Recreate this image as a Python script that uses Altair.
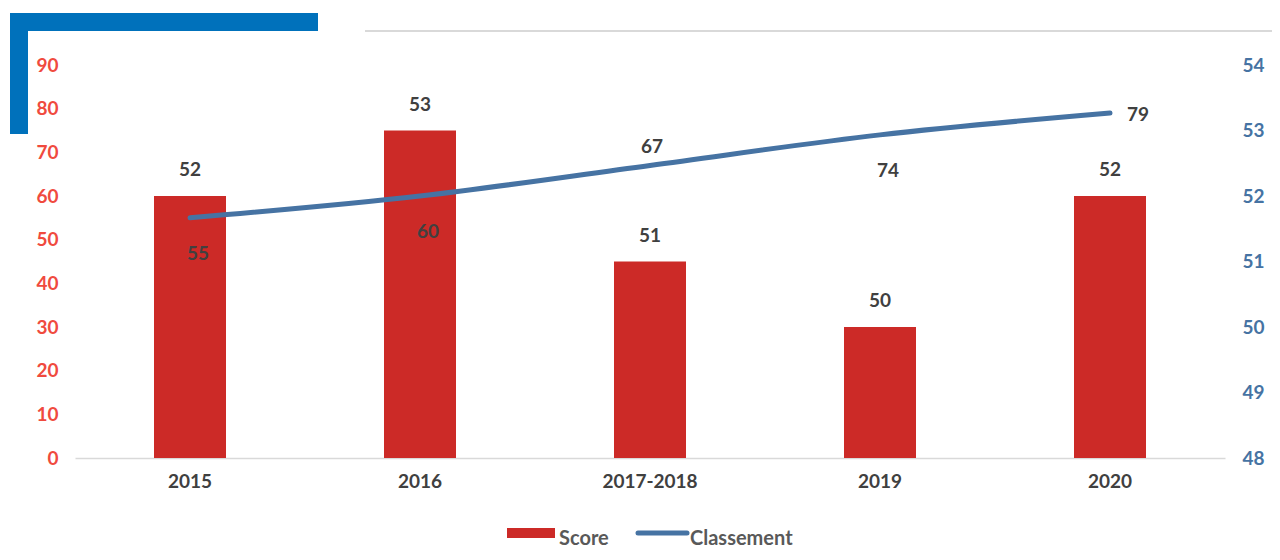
import altair as alt
import pandas as pd

periods = ["2015", "2016", "2017-2018", "2019", "2020"]
score = [52, 53, 51, 50, 52]
classement = [55, 60, 67, 74, 79]
classement_label_pos = ["below", "below", "above", "below", "right"]

left_ticks = [0, 10, 20, 30, 40, 50, 60, 70, 80, 90]
right_ticks = [48, 49, 50, 51, 52, 53, 54]

df = pd.DataFrame({
    "period": periods,
    "score": score,
    "classement": classement,
    "pos": classement_label_pos,
})

FONT = "Lato"
RED = "#cc2a27"
BLUE = "#4673a3"
TXT = "#404040"
FS = 19

x = alt.X("period:N", sort=periods, title=None,
          scale=alt.Scale(paddingInner=0, paddingOuter=0),
          axis=alt.Axis(labelAngle=0, ticks=False, domainColor="#d9d9d9",
                        domainWidth=1.5, labelPadding=14, labelFontSize=FS,
                        labelFont=FONT, labelFontWeight="bold", labelColor=TXT))

base = alt.Chart(df)

y_bar = alt.Y("score:Q", title=None,
              scale=alt.Scale(domain=[48, 54], zero=False, nice=False),
              axis=alt.Axis(orient="right", values=right_ticks, grid=False,
                            ticks=False, domain=False, labelPadding=17,
                            labelFontSize=FS, labelFont=FONT,
                            labelFontWeight="bold", labelColor=BLUE))

bars = base.mark_bar(size=72, color=RED).encode(x=x, y=y_bar, y2=alt.datum(48))
bar_text = base.mark_text(dy=-26, baseline="middle", fontSize=FS, font=FONT,
                          fontWeight="bold", color=TXT).encode(
    x=x, y=y_bar, text="score:Q")
bar_layer = alt.layer(bars, bar_text)

y_line = alt.Y("classement:Q", title=None,
               scale=alt.Scale(domain=[0, 90], nice=False),
               axis=alt.Axis(orient="left", values=left_ticks, grid=False,
                             ticks=False, domain=False, labelPadding=17,
                             labelFontSize=FS, labelFont=FONT,
                             labelFontWeight="bold", labelColor="#f04a3e"))

line = base.mark_line(color=BLUE, strokeWidth=5, interpolate="monotone",
                      strokeCap="round").encode(x=x, y=y_line)

def lbl(pos, dx, dy):
    return base.transform_filter(alt.datum.pos == pos).mark_text(
        dx=dx, dy=dy, baseline="middle", fontSize=FS, font=FONT,
        fontWeight="bold", color=TXT).encode(x=x, y=y_line, text="classement:Q")

line_layer = alt.layer(line, lbl("below", 8, 36), lbl("above", 2, -18),
                       lbl("right", 28, 2))

one = alt.Chart(df.head(1))
# decoration (pixel positions)
deco_top = one.mark_rect(color="#0071bb").encode(
    x=alt.value(-65), x2=alt.value(243), y=alt.value(-52), y2=alt.value(-34))
deco_left = one.mark_rect(color="#0071bb").encode(
    x=alt.value(-65), x2=alt.value(-47), y=alt.value(-52), y2=alt.value(69))
deco_rule = one.mark_rule(color="#d9d9d9", strokeWidth=2).encode(
    x=alt.value(290), x2=alt.value(1197), y=alt.value(-34))
# legend
leg_rect = one.mark_rect(color=RED).encode(
    x=alt.value(432), x2=alt.value(480), y=alt.value(463), y2=alt.value(473))
leg_score = one.mark_text(
    text="Score", align="left", baseline="middle", fontSize=20, font=FONT,
    fontWeight="bold", color="#595959").encode(x=alt.value(484), y=alt.value(474))
leg_line = one.mark_rule(color=BLUE, strokeWidth=5, strokeCap="round").encode(
    x=alt.value(563), x2=alt.value(612), y=alt.value(468))
leg_class = one.mark_text(
    text="Classement", align="left", baseline="middle", fontSize=20, font=FONT,
    fontWeight="bold", color="#595959").encode(x=alt.value(615), y=alt.value(474))

chart = alt.layer(
    deco_top, deco_left, deco_rule, bar_layer, line_layer, leg_rect, leg_score,
    leg_line, leg_class
).resolve_scale(y="independent").properties(
    width=1150, height=393,
    background="white",
    autosize=alt.AutoSizeParams(type="none"),
    padding={"left": 67, "top": 57, "right": 47, "bottom": 94},
).configure_view(strokeWidth=0, stroke="transparent")

chart.save("out.html", embed_options={"renderer": "svg", "actions": False})
